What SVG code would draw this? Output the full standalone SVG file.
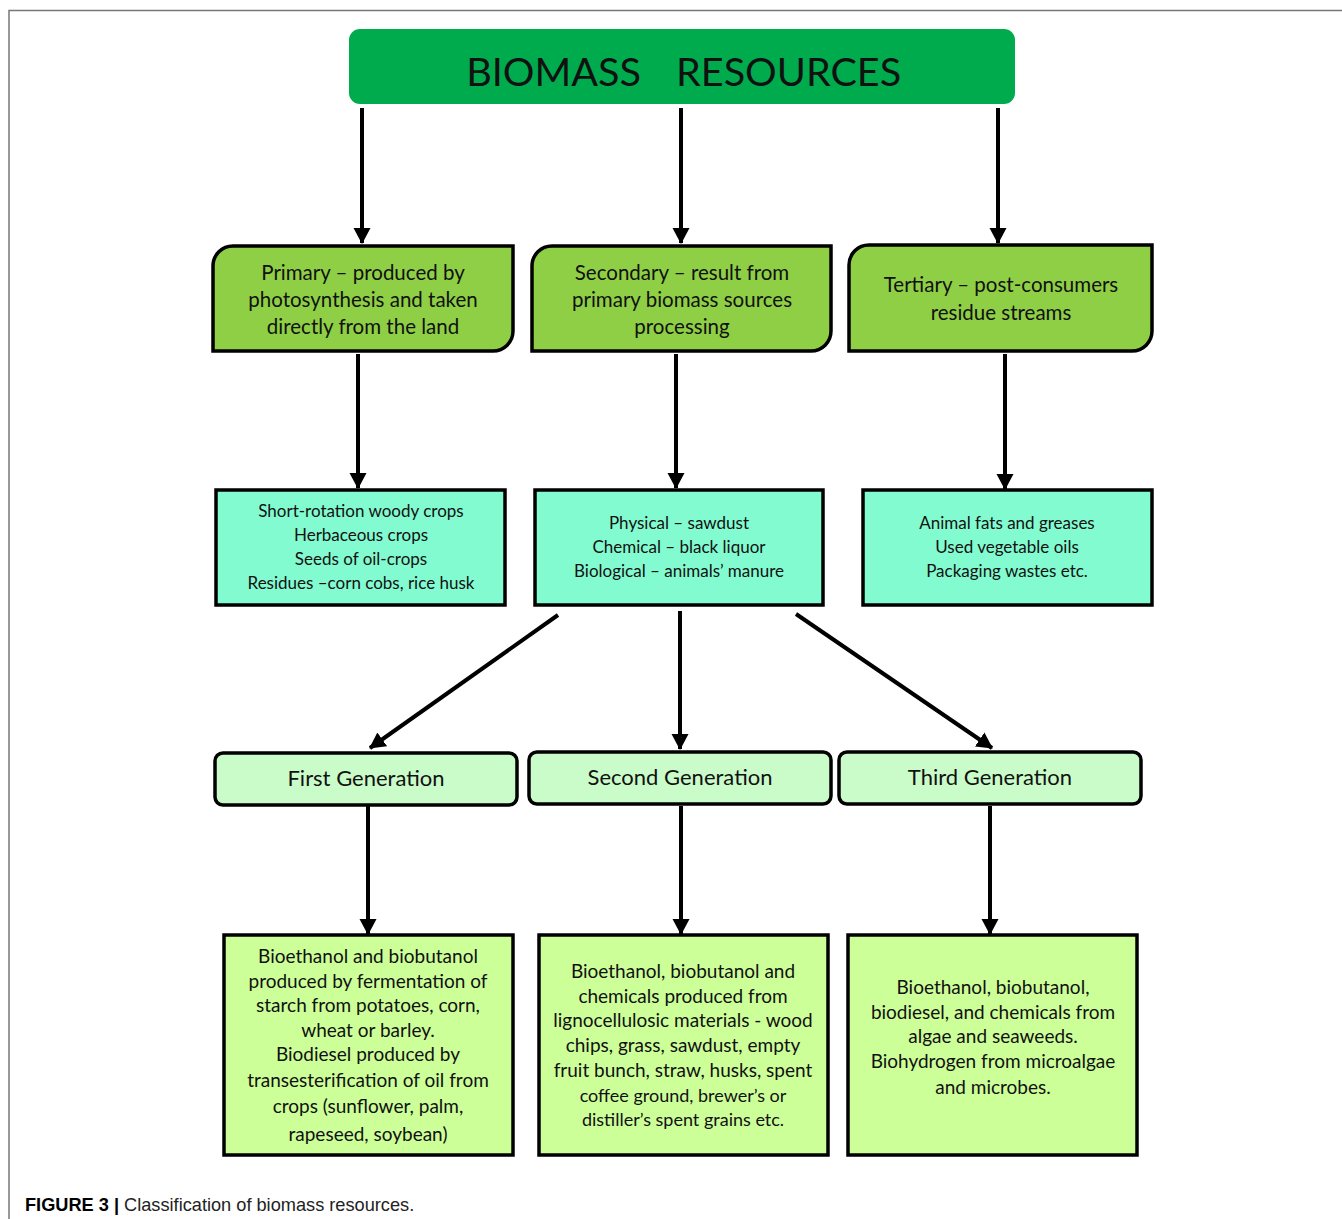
<svg xmlns="http://www.w3.org/2000/svg" width="1342" height="1219" viewBox="0 0 1342 1219">
<style>
.t{font-family:Lato,"Open Sans","Liberation Sans",sans-serif;fill:#111;text-anchor:middle}
.h{font-size:39.6px}
.l2{font-size:20.5px}
.l3{font-size:17px}
.l4{font-size:22px}
.l5{font-size:19px}
.box{stroke:#000;stroke-width:3.5}
.g2{fill:#8fcf45}
.g3{fill:#82fbd0}
.g4{fill:#c9fcc9}
.g5{fill:#cdff99}
.c{stroke:#000;stroke-width:4;fill:none;marker-end:url(#ah)}
.cap{font-family:"Liberation Sans",Arial,sans-serif;font-size:18.2px;fill:#222}
</style>
<defs>
<marker id="ah" markerUnits="userSpaceOnUse" markerWidth="18" markerHeight="18" refX="15" refY="9" orient="auto">
<path d="M0,0.5 L16,9 L0,17.5 Z" fill="#000"/>
</marker>
</defs>
<rect width="1342" height="1219" fill="#fff"/>
<path d="M9,1219 V10.5 H1342" fill="none" stroke="#777" stroke-width="1.5"/>

<g id="connectors">
<line class="c" x1="362" y1="108" x2="362" y2="243"/>
<line class="c" x1="681" y1="108" x2="681" y2="243"/>
<line class="c" x1="998" y1="108" x2="998" y2="243"/>
<line class="c" x1="358" y1="354" x2="358" y2="488"/>
<line class="c" x1="676" y1="354" x2="676" y2="488"/>
<line class="c" x1="1005" y1="354" x2="1005" y2="489"/>
<line class="c" x1="558" y1="615" x2="370" y2="748"/>
<line class="c" x1="680" y1="611" x2="680" y2="749"/>
<line class="c" x1="796" y1="614" x2="992" y2="748"/>
<line class="c" x1="368" y1="806" x2="368" y2="934"/>
<line class="c" x1="681" y1="806" x2="681" y2="934"/>
<line class="c" x1="990" y1="806" x2="990" y2="934"/>
</g>

<g id="biomass-resources">
<rect x="349" y="29" width="666" height="75" rx="11" fill="#00ab4e"/>
<text class="t h" x="641" y="86" style="text-anchor:end">BIOMASS</text>
<text class="t h" x="676" y="86" style="text-anchor:start">RESOURCES</text>
</g>

<g id="primary">
<path class="box g2" d="M233,246 H513 V331 A20,20 0 0 1 493,351 H213 V266 A20,20 0 0 1 233,246 Z"/>
<text class="t l2" x="363" y="280">Primary – produced by</text>
<text class="t l2" x="363" y="307">photosynthesis and taken</text>
<text class="t l2" x="363" y="334">directly from the land</text>
</g>
<g id="secondary">
<path class="box g2" d="M552,246 H831 V331 A20,20 0 0 1 811,351 H532 V266 A20,20 0 0 1 552,246 Z"/>
<text class="t l2" x="682" y="280">Secondary – result from</text>
<text class="t l2" x="682" y="307">primary biomass sources</text>
<text class="t l2" x="682" y="334">processing</text>
</g>
<g id="tertiary">
<path class="box g2" d="M869,245 H1152 V331 A20,20 0 0 1 1132,351 H849 V265 A20,20 0 0 1 869,245 Z"/>
<text class="t l2" x="1001" y="292">Tertiary – post-consumers</text>
<text class="t l2" x="1001" y="320">residue streams</text>
</g>

<g id="primary-examples">
<rect class="box g3" x="216" y="490" width="289" height="115"/>
<text class="t l3" x="361" y="517">Short-rotation woody crops</text>
<text class="t l3" x="361" y="541">Herbaceous crops</text>
<text class="t l3" x="361" y="565">Seeds of oil-crops</text>
<text class="t l3" x="361" y="589">Residues –corn cobs, rice husk</text>
</g>
<g id="secondary-examples">
<rect class="box g3" x="535" y="490" width="288" height="115"/>
<text class="t l3" x="679" y="529">Physical – sawdust</text>
<text class="t l3" x="679" y="553">Chemical – black liquor</text>
<text class="t l3" x="679" y="577">Biological – animals’ manure</text>
</g>
<g id="tertiary-examples">
<rect class="box g3" x="863" y="490" width="289" height="115"/>
<text class="t l3" x="1007" y="529">Animal fats and greases</text>
<text class="t l3" x="1007" y="553">Used vegetable oils</text>
<text class="t l3" x="1007" y="577">Packaging wastes etc.</text>
</g>

<g id="first-generation">
<rect class="box g4" x="215" y="753" width="302" height="52" rx="8"/>
<text class="t l4" x="366" y="786">First Generation</text>
</g>
<g id="second-generation">
<rect class="box g4" x="529" y="752" width="302" height="52" rx="8"/>
<text class="t l4" x="680" y="785">Second Generation</text>
</g>
<g id="third-generation">
<rect class="box g4" x="839" y="752" width="302" height="52" rx="8"/>
<text class="t l4" x="990" y="785">Third Generation</text>
</g>

<g id="first-generation-products">
<rect class="box g5" x="224" y="935" width="289" height="220"/>
<text class="t l5" x="368" y="963">Bioethanol and biobutanol</text>
<text class="t l5" x="368" y="988">produced by fermentation of</text>
<text class="t l5" x="368" y="1012">starch from potatoes, corn,</text>
<text class="t l5" x="368" y="1037">wheat or barley.</text>
<text class="t l5" x="368" y="1061">Biodiesel produced by</text>
<text class="t l5" x="368" y="1087">transesterification of oil from</text>
<text class="t l5" x="368" y="1113">crops (sunflower, palm,</text>
<text class="t l5" x="368" y="1141">rapeseed, soybean)</text>
</g>
<g id="second-generation-products">
<rect class="box g5" x="539" y="935" width="289" height="220"/>
<text class="t l5" x="683" y="978">Bioethanol, biobutanol and</text>
<text class="t l5" x="683" y="1003">chemicals produced from</text>
<text class="t l5" x="683" y="1027">lignocellulosic materials - wood</text>
<text class="t l5" x="683" y="1052">chips, grass, sawdust, empty</text>
<text class="t l5" x="683" y="1077">fruit bunch, straw, husks, spent</text>
<text class="t l5" x="683" y="1102" style="font-size:18px">coffee ground, brewer’s or</text>
<text class="t l5" x="683" y="1126" style="font-size:18px">distiller’s spent grains etc.</text>
</g>
<g id="third-generation-products">
<rect class="box g5" x="848" y="935" width="289" height="220"/>
<text class="t l5" x="993" y="994">Bioethanol, biobutanol,</text>
<text class="t l5" x="993" y="1019">biodiesel, and chemicals from</text>
<text class="t l5" x="993" y="1043">algae and seaweeds.</text>
<text class="t l5" x="993" y="1068">Biohydrogen from microalgae</text>
<text class="t l5" x="993" y="1094">and microbes.</text>
</g>

<text class="cap" x="25" y="1211"><tspan font-weight="bold" fill="#000">FIGURE 3 |</tspan> Classification of biomass resources.</text>
</svg>
